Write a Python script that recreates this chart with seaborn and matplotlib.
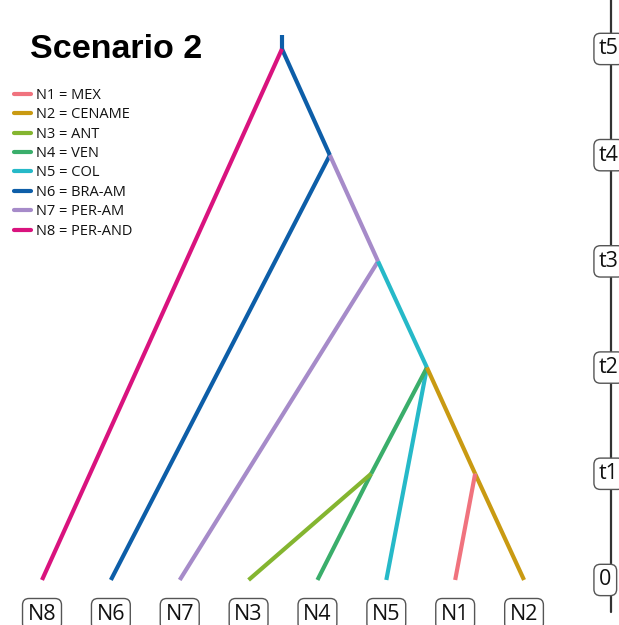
import numpy as np
import pandas as pd
import matplotlib
matplotlib.use("Agg")
import matplotlib.pyplot as plt
from matplotlib.lines import Line2D
import seaborn as sns

# Populations (legend order) and their colours
pops = ["N1", "N2", "N3", "N4", "N5", "N6", "N7", "N8"]
pop_names = ["MEX", "CENAME", "ANT", "VEN", "COL", "BRA-AM", "PER-AM", "PER-AND"]
pop_colors = ["#F0737E", "#C99A12", "#84B530", "#3AAE6B", "#26B9C8",
              "#0D5EA8", "#A68BC9", "#D9137E"]

# Leaf order along the bottom of the tree
leaf_order = ["N8", "N6", "N7", "N3", "N4", "N5", "N1", "N2"]

# Time axis
time_labels = ["0", "t1", "t2", "t3", "t4", "t5"]
time_values = [0, 1, 2, 3, 4, 5]

# Internal nodes: horizontal position (leaf-index units) and time
node_names = ["root", "a6", "a7", "a5", "a34", "a12"]
node_x = [3.485, 4.18, 4.88, 5.59, 4.78, 6.29]
node_t = [5, 4, 3, 2, 1, 1]
stem_top = 5.13

# Branches: (population drawn, path of nodes from ancestor to descendant)
branch_pop = ["N6", "N8", "N6", "N7", "N5", "N4", "N3", "N2", "N1"]
branch_path = [
    ["stem", "root"],
    ["root", "N8"],
    ["root", "a6", "N6"],
    ["a6", "a7", "N7"],
    ["a7", "a5", "N5"],
    ["a5", "a34", "N4"],
    ["a34", "N3"],
    ["a5", "a12", "N2"],
    ["a12", "N1"],
]

# Coordinates for every named point
coords = {name: (x, t) for name, x, t in zip(node_names, node_x, node_t)}
for i, leaf in enumerate(leaf_order):
    coords[leaf] = (float(i), 0.0)
coords["stem"] = (coords["root"][0], stem_top)

rows = []
seg = 0
for pop, path in zip(branch_pop, branch_path):
    for a, b in zip(path[:-1], path[1:]):
        for p in (a, b):
            rows.append({"x": coords[p][0], "t": coords[p][1], "pop": pop, "seg": seg})
        seg += 1
df = pd.DataFrame(rows)

palette = dict(zip(pops, pop_colors))

sns.set_theme(style="white")
plt.rcParams["font.family"] = ["Open Sans", "DejaVu Sans"]
plt.rcParams["text.color"] = "black"

fig = plt.figure(figsize=(6.19, 6.25), dpi=100)
ax = fig.add_axes([0, 0, 1, 1])

sns.lineplot(data=df, x="x", y="t", hue="pop", units="seg", estimator=None,
             palette=palette, sort=False, linewidth=3.0, legend=False, ax=ax,
             solid_capstyle="butt")

ax.set_xlim(-0.61, 8.379)
ax.set_ylim(-0.424, 5.461)
ax.axis("off")

# Leaf labels in boxes
box = dict(boxstyle="round,pad=0.24,rounding_size=0.3", fc="white", ec="#555555", lw=1.0)
for i, leaf in enumerate(leaf_order):
    ax.text(i, -0.322, leaf, ha="center", va="center", fontsize=15.5,
            color="#111111", bbox=box)

# Time axis on the right
axis_x = 8.263
ax.plot([axis_x, axis_x], [-0.30, 5.461], color="#333333", lw=1.6, zorder=1)
for lab, tv in zip(time_labels, time_values):
    ax.text(8.09, tv, lab, ha="left", va="center", fontsize=15.5,
            color="#111111", bbox=box, zorder=3)

# Title
fig.text(30 / 619, 1 - 49 / 625, "Scenario 2", ha="left", va="center",
         fontsize=24.5, fontweight="bold", family="Liberation Sans", color="black")

# Legend
handles = [Line2D([0], [0], color=c, lw=3.0) for c in pop_colors]
labels = [f"{p} = {n}" for p, n in zip(pops, pop_names)]
leg = fig.legend(handles, labels, loc="upper left",
                 bbox_to_anchor=(14 / 619, 1 - 88 / 625), frameon=False,
                 fontsize=10.5, handlelength=1.15, handletextpad=0.35,
                 labelspacing=0.30, borderpad=0, borderaxespad=0)
for t in leg.get_texts():
    t.set_color("#111111")

fig.savefig("out.png", dpi=100)
